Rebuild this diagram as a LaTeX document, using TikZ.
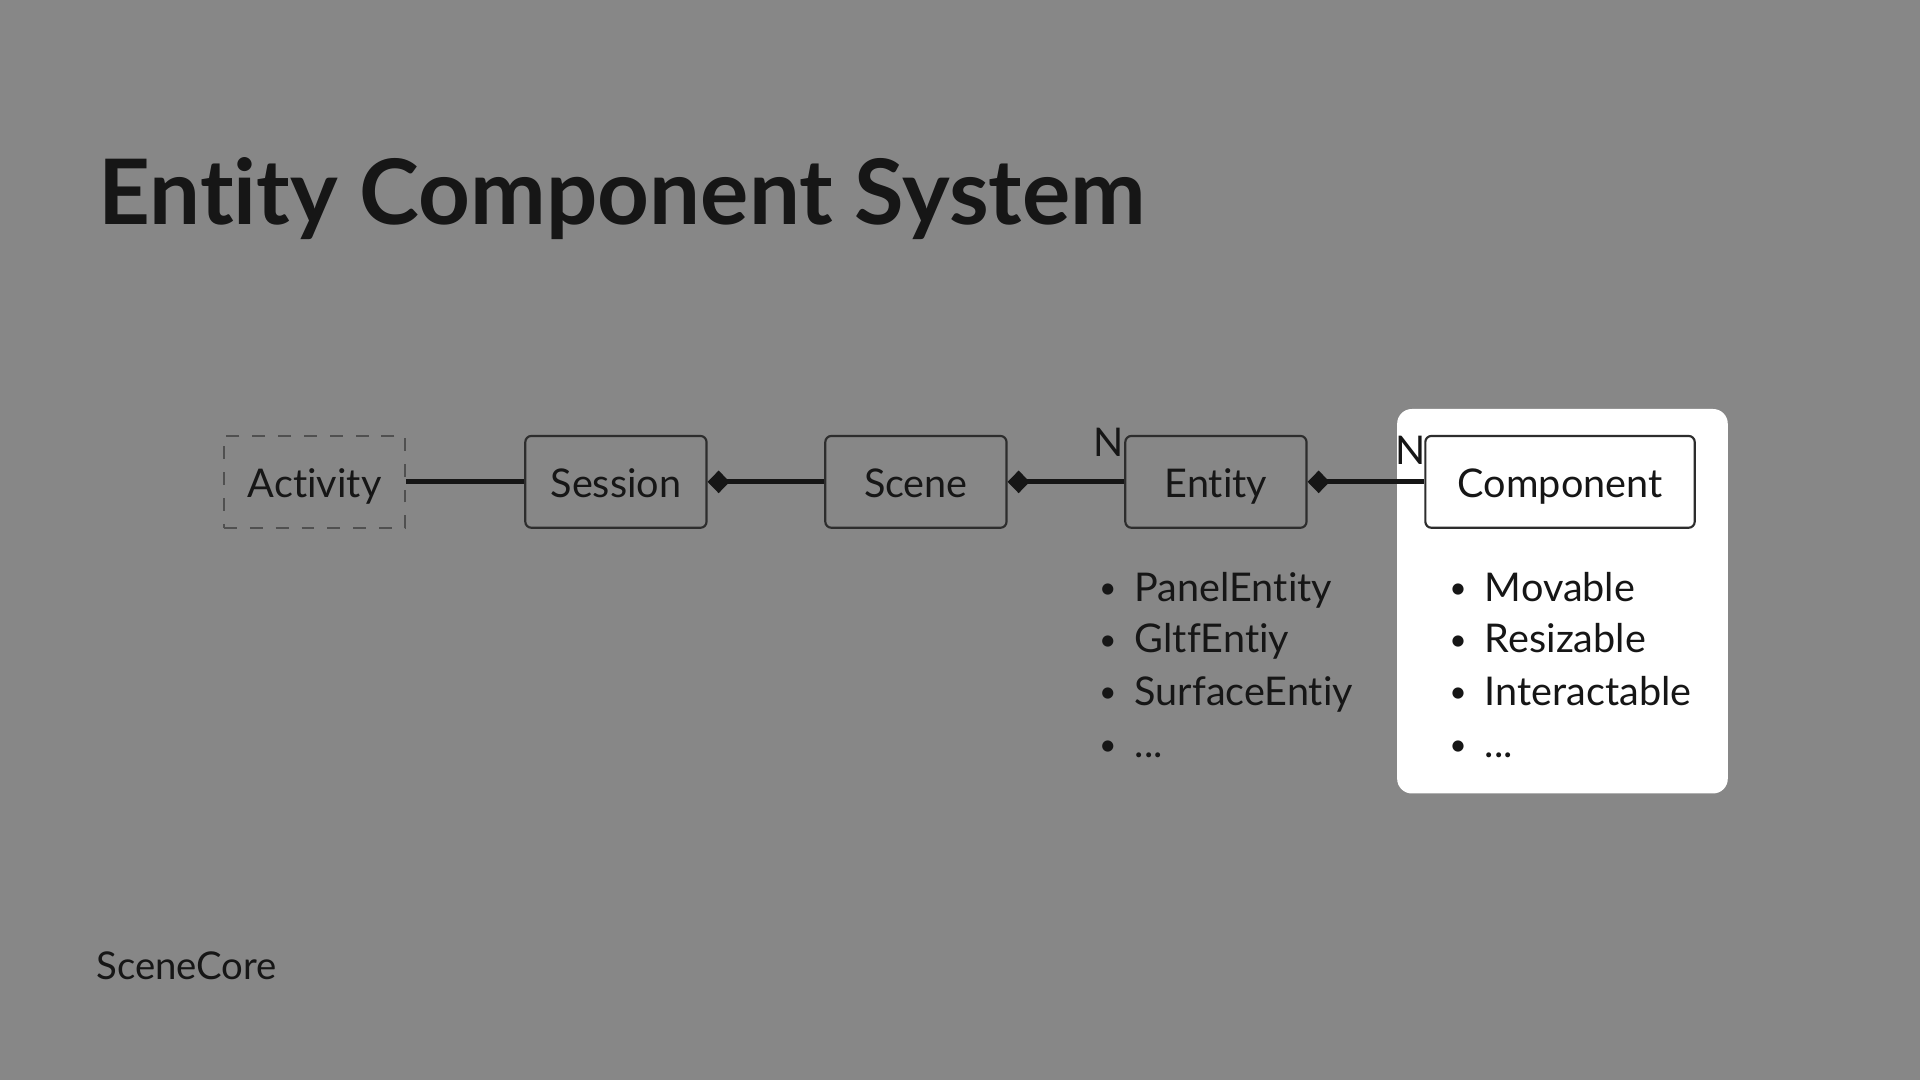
\documentclass[tikz,border=0pt]{standalone}
\usepackage{fontspec}
\setmainfont{Lato}[Ligatures=NoCommon]
\usetikzlibrary{arrows.meta}
\definecolor{slidegray}{HTML}{878787}
\definecolor{ink}{HTML}{161616}
\tikzset{
	box/.style={draw=ink!90, line width=0.5pt, rounded corners=0.05cm, minimum width=1.48cm, minimum height=0.75cm, inner sep=0pt, text height=0.72em, text depth=0pt, text=ink, font=\fontsize{9.2}{11}\selectfont},
	ghostbox/.style={box, dashed, rounded corners=0pt, draw=ink!75},
	link/.style={draw=ink, line width=1.1pt},
	owns/.style={link, {Diamond[length=0.18cm,width=0.185cm]}-},
	item/.style={anchor=base west, inner sep=0pt, text=ink, font=\fontsize{9.2}{11}\selectfont},
}
\newcommand{\bul}{\makebox[0.31cm][l]{\hspace{0.02cm}\raisebox{0.06em}{\fontsize{7}{8}\selectfont\textbullet}}}
\begin{document}
\begin{tikzpicture}
			\fill[slidegray] (0,0) rectangle (15.68,8.82);
			\useasboundingbox (0,0) rectangle (15.68,8.82);
			\node[anchor=base west, inner sep=0pt, text=ink, font=\fontsize{21}{26}\selectfont\bfseries] (title) at (0.80,6.99) {Entity Component System};
			\fill[white, rounded corners=0.12cm] (11.41,2.34) rectangle (14.11,5.48);
			\node[ghostbox] (activity) at (2.57,4.885) {Activity};
			\node[box] (session) at (5.03,4.885) {Session};
			\node[box] (scene) at (7.48,4.885) {Scene};
			\node[box] (entity) at (9.93,4.885) {Entity};
			\node[box, fill=white, minimum width=2.20cm] (component) at (12.74,4.885) {Component};
			\draw[link] (activity) -- (session);
			\draw[owns] (session) -- (scene);
			\draw[owns] (scene) -- (entity);
			\draw[owns] (entity) -- (component);
			\node[text=ink, inner sep=0pt, font=\fontsize{9.2}{11}\selectfont] (nentity) at (9.05,5.205) {N};
			\node[text=ink, inner sep=0pt, font=\fontsize{9.2}{11}\selectfont] (ncomponent) at (11.52,5.14) {N};
			\node[item] (panel) at (8.95,3.91) {\bul PanelEntity};
			\node[item] (gltf) at (8.95,3.49) {\bul GltfEntiy};
			\node[item] (surface) at (8.95,3.06) {\bul SurfaceEntiy};
			\node[item] (moreentity) at (8.95,2.63) {\bul ...};
			\node[item] (movable) at (11.81,3.91) {\bul Movable};
			\node[item] (resizable) at (11.81,3.49) {\bul Resizable};
			\node[item] (interact) at (11.81,3.06) {\bul Interactable};
			\node[item] (morecomp) at (11.81,2.63) {\bul ...};
			\node[anchor=base west, inner sep=0pt, text=ink, font=\fontsize{8.9}{11}\selectfont] (scenecore) at (0.78,0.82) {SceneCore};
\end{tikzpicture}
\end{document}
